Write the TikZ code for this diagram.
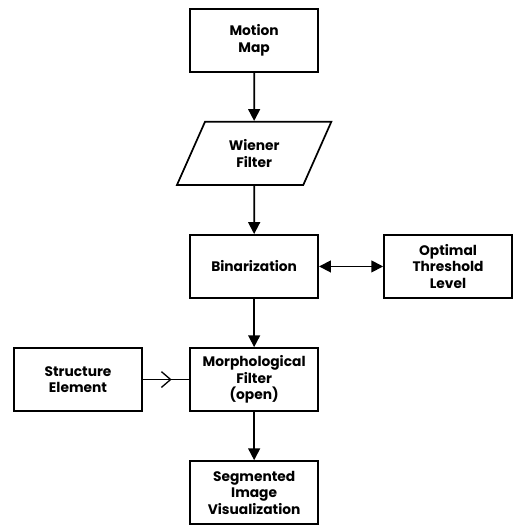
\documentclass[tikz,border=0pt]{standalone}
\usepackage{fontspec}
\setmainfont{Poppins}
\usepackage{tikz}
\usetikzlibrary{shapes.geometric, arrows.meta, positioning, decorations.markings}

\begin{document}
\begin{tikzpicture}[
    >={Triangle[length=9pt, width=9pt]},
    node distance=36.75pt and 48.75pt,
    line width=1.3pt,
    stagebox/.style={draw, rectangle, align=center, minimum width=97.5pt, minimum height=48pt, font=\fontsize{10.5}{12.5}\selectfont\bfseries},
    filterbox/.style={draw, trapezium, trapezium stretches=true, trapezium left angle=65, trapezium right angle=115, align=center, minimum width=118pt, minimum height=48pt, font=\fontsize{10.5}{12.5}\selectfont\bfseries},
    openmid/.style={postaction={decorate}, decoration={markings, mark=at position 0.62 with {\arrow{Straight Barb[length=7pt, width=12pt, line width=1pt]}}}}
]

% Main chain
\node[stagebox] (mm) {Motion\\ Map};
\node[filterbox, below=of mm] (wf) {Wiener\\ Filter};
\node[stagebox, below=of wf] (bin) {Binarization};
\node[stagebox, below=of bin] (morph) {Morphological\\ Filter\\ (open)};
\node[stagebox, below=of morph] (seg) {Segmented\\ Image\\ Visualization};

% Side nodes
\node[stagebox, right=of bin] (thr) {Optimal\\ Threshold\\ Level};
\node[stagebox, left=35.25pt of morph] (se) {Structure\\ Element};

\useasboundingbox ([shift={(-144pt,6pt)}]mm.north west) rectangle ++(387.75pt,-393.75pt);

% Edges
\draw[->] (mm) -- (wf);
\draw[->] (wf) -- (bin);
\draw[<->] (bin) -- (thr);
\draw[->] (bin) -- (morph);
\draw[openmid] (se) -- (morph);
\draw[->] (morph) -- (seg);

\end{tikzpicture}
\end{document}
